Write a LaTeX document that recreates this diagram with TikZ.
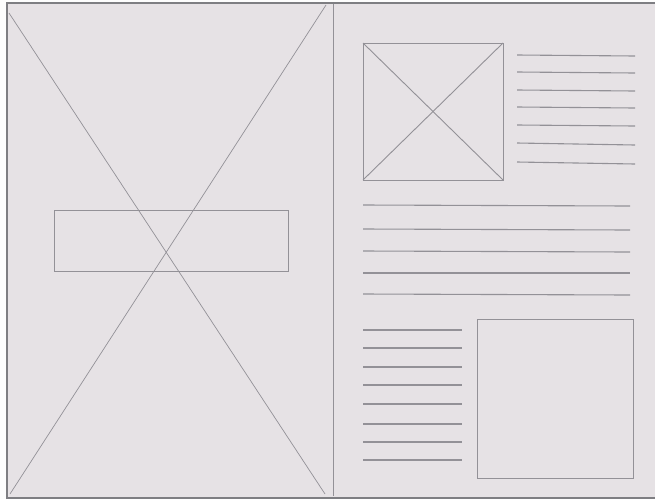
\documentclass[tikz,border=0pt]{standalone}
\definecolor{paper}{HTML}{E6E2E5}
\definecolor{frame}{HTML}{7E7E82}
\definecolor{pencil}{HTML}{939197}
\begin{document}
\begin{tikzpicture}[x=1pt,y=-1pt,
  sketch/.style={draw=pencil,line width=0.9pt},
  thin sketch/.style={draw=pencil,line width=0.7pt},
  textline/.style={draw=pencil,line width=1.1pt}]
\useasboundingbox (0,0) rectangle (655,499);
\fill[white!92!paper] (0,0) rectangle (655,499);
\fill[paper] (7,3) rectangle (655,497);
% frame
\draw[frame,line width=2.2pt] (7,499) -- (7,3) -- (655,3);
\draw[frame,line width=2.5pt] (7,497.8) -- (655,497.8);
% divider
\draw[thin sketch] (333,4) -- (333,496);
% left panel cross
\draw[thin sketch] (9,13) -- (325,494);
\draw[thin sketch] (326,5) -- (10,494);
% left banner rectangle
\draw[sketch] (54,210) rectangle (288,271);
% top image placeholder
\coordinate (sq1) at (363,43);
\coordinate (sq2) at (503,180);
\draw[sketch] (sq1) rectangle (sq2);
\draw[sketch] (sq1) -- (sq2);
\draw[sketch] (363,180) -- (503,43);
% lines right of image
\foreach \y/\d in {55/1,72/1,90/1,107/1,125/1,143/2,162/2}
  \draw[textline] (517,\y) -- (635,\y+\d);
% wide text lines
\foreach \y/\d in {205/1,229/1,251/1,273/0,294/1}
  \draw[textline] (363,\y) -- (630,\y+\d);
% bottom-left text lines
\foreach \y in {330,348,367,385,404,424,442,460}
  \draw[textline] (363,\y) -- (462,\y);
% bottom image box
\draw[sketch] (477,319) rectangle (633,478);
\end{tikzpicture}
\end{document}
